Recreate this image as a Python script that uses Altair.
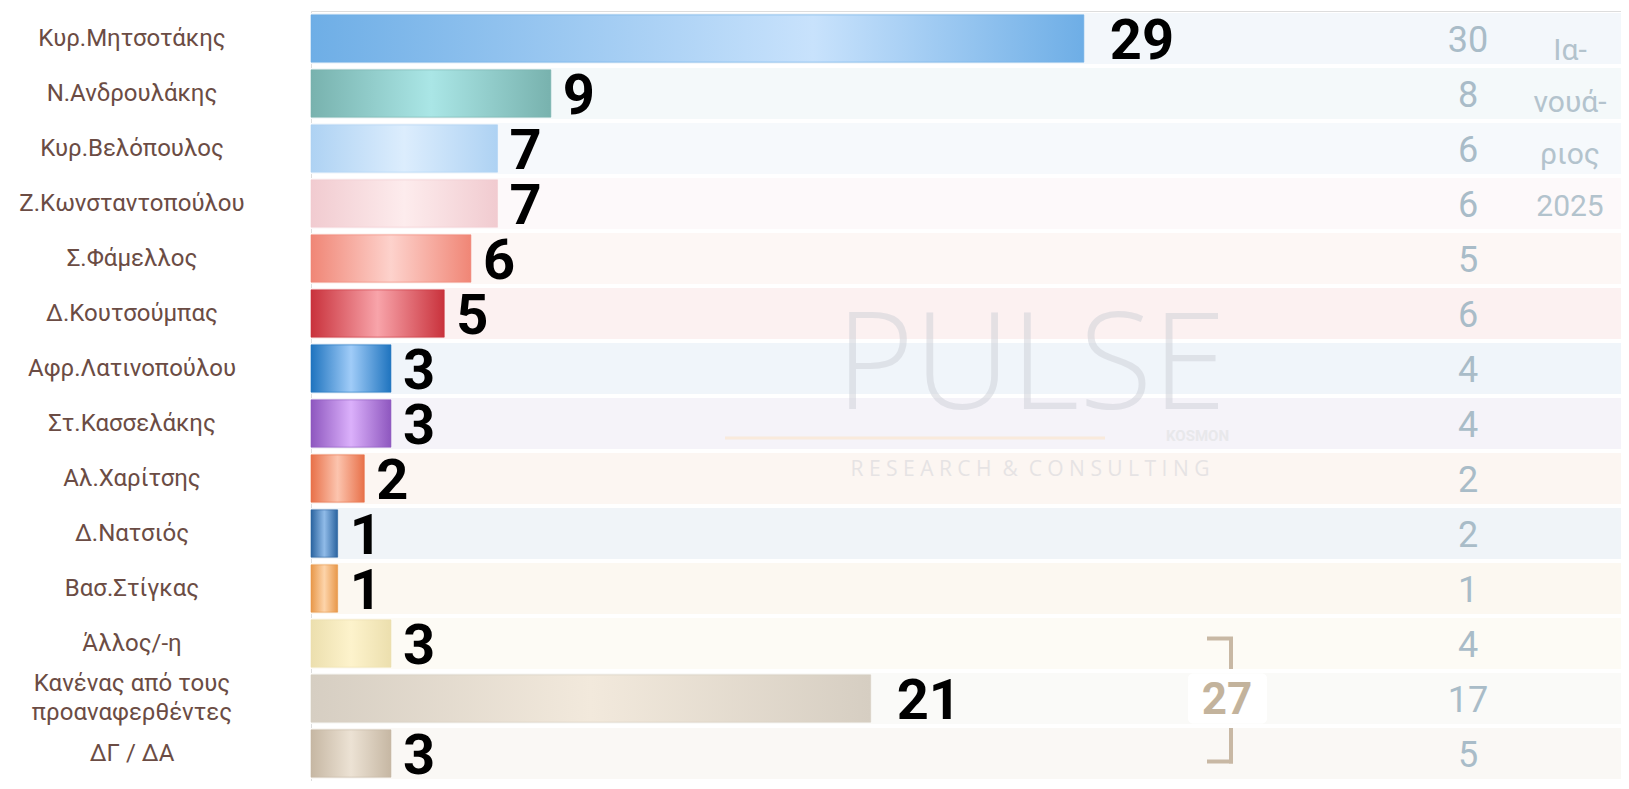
import altair as alt
import pandas as pd

# ---------------- data ----------------
names = ["Κυρ.Μητσοτάκης", "Ν.Ανδρουλάκης", "Κυρ.Βελόπουλος", "Ζ.Κωνσταντοπούλου",
         "Σ.Φάμελλος", "Δ.Κουτσούμπας", "Αφρ.Λατινοπούλου", "Στ.Κασσελάκης",
         "Αλ.Χαρίτσης", "Δ.Νατσιός", "Βασ.Στίγκας", "Άλλος/-η",
         "Κανένας από τους\nπροαναφερθέντες", "ΔΓ / ΔΑ"]
values = [29, 9, 7, 7, 6, 5, 3, 3, 2, 1, 1, 3, 21, 3]
previous = [30, 8, 6, 6, 5, 6, 4, 4, 2, 2, 1, 4, 17, 5]
month_lines = ["Ια-", "νουά-", "ριος", "2025"]
bracket_total = sum(values[-3:])

# ---------------- styles ----------------
edge_colors = ["#6eaee6", "#78b2ae", "#aed2f3", "#f1cbd0", "#f08676", "#c9323c", "#1f74bf",
               "#8e57bf", "#e8714a", "#2b64a0", "#e8984a", "#ecdfae", "#d6cec2", "#c6b7a3"]
mid_colors = ["#c8e2fc", "#aae6e6", "#dcedfd", "#fdeced", "#fdd2cc", "#f8a4aa", "#a0ccf8",
              "#dbb0fb", "#fcc4ae", "#90bbe8", "#fdd4aa", "#fdf3cc", "#f2e9dc", "#ece2d4"]
band_colors = ["#f3f7fb", "#f4f9fa", "#f6f9fc", "#fdf9fa", "#fdf7f5", "#fcf1f1", "#f0f5fa",
               "#f5f3f9", "#fcf6f2", "#f0f4f8", "#fcf8f1", "#fdfbf5", "#fafaf8", "#faf8f5"]

W, H = 1310, 770
PX_PER_UNIT = 26.65
ROW = H / len(names)
FONT = "Roboto"
LABEL_LH = 29

df = pd.DataFrame({"idx": list(range(len(names))), "name": names,
                   "value": values, "previous": previous})
df["lines"] = df["name"].str.count("\n") + 1

y_enc = alt.Y("name:N", sort=names, title=None,
              scale=alt.Scale(paddingInner=0, paddingOuter=0),
              axis=None)
x_enc = alt.X("value:Q", axis=None,
              scale=alt.Scale(domain=[0, W / PX_PER_UNIT], nice=False, zero=True))

base = alt.Chart(df)

bands = base.mark_bar(height=alt.RelativeBandSize(0.93)).encode(
    y=y_enc,
    x=alt.value(0), x2=alt.value(W),
    color=alt.Color("name:N", sort=names,
                    scale=alt.Scale(domain=names, range=band_colors), legend=None),
)

# category labels on the left
label_single = base.transform_filter(alt.datum.lines == 1).mark_text(
    font=FONT, fontSize=24, color="#6b4c44", align="center", baseline="middle"
).encode(y=y_enc, x=alt.value(-179), text="name:N")
label_multi = base.transform_filter(alt.datum.lines > 1).mark_text(
    font=FONT, fontSize=24, color="#6b4c44", align="center", baseline="middle",
    lineBreak="\n", lineHeight=LABEL_LH, dy=-LABEL_LH / 2
).encode(y=y_enc, x=alt.value(-179), text="name:N")

one = pd.DataFrame({"k": [0]})

wm_pulse = alt.Chart(pd.DataFrame({"t": ["PULSE"]})).mark_text(
    font="Open Sans", fontWeight=300, fontSize=134, color="#c9ccd4", opacity=0.45,
    align="center", baseline="middle", dy=4
).encode(text="t:N", x=alt.value(720), y=alt.value(354))

wm_kosmon = alt.Chart(pd.DataFrame({"t": ["KOSMON"]})).mark_text(
    font=FONT, fontWeight="bold", fontSize=15, color="#e6e6e8", opacity=0.8,
    align="right", baseline="middle"
).encode(text="t:N", x=alt.value(918), y=alt.value(425))

NB = "\u00a0"
research = "R E S E A R C H" + NB * 2 + "&" + NB * 2 + "C O N S U L T I N G"
wm_research = alt.Chart(pd.DataFrame({"t": [research]})).mark_text(
    font="Open Sans", fontSize=21, color="#d8d8dc", opacity=0.6,
    align="center", baseline="middle"
).encode(text="t:N", x=alt.value(719), y=alt.value(459))

wm_line = alt.Chart(one).mark_rule(color="#fbe6d0", strokeWidth=3, opacity=0.7).encode(
    x=alt.value(414), x2=alt.value(794), y=alt.value(427))

bar_layers = []
for i in range(len(names)):
    stop_mid = 0.65 if i == 0 else 0.5
    grad = alt.Gradient(gradient="linear", x1=0, x2=1, y1=0, y2=0, stops=[
        alt.GradientStop(color=edge_colors[i], offset=0),
        alt.GradientStop(color=mid_colors[i], offset=stop_mid),
        alt.GradientStop(color=edge_colors[i], offset=1)])
    bar_layers.append(
        base.transform_filter(alt.datum.idx == i).mark_bar(
            height=alt.RelativeBandSize(0.86), color=grad,
            stroke=edge_colors[i], strokeWidth=1, strokeOpacity=0.6
        ).encode(y=y_enc, x=x_enc)
    )

val_small = base.transform_filter(alt.datum.value < 10).mark_text(
    font=FONT, fontWeight="bold", fontSize=56, color="#000000",
    align="left", baseline="middle", dx=12, dy=3
).encode(y=y_enc, x=x_enc, text="value:Q")

val_big = base.transform_filter(alt.datum.value >= 10).mark_text(
    font=FONT, fontWeight="bold", fontSize=56, color="#000000",
    align="left", baseline="middle", dx=26, dy=3
).encode(y=y_enc, x=x_enc, text="value:Q")

prev_text = base.mark_text(
    font=FONT, fontSize=36, color="#a9bcc8", align="center", baseline="middle", dy=2
).encode(y=y_enc, x=alt.value(1157), text="previous:Q")

month = alt.Chart(pd.DataFrame({"m": ["\n".join(month_lines)]})).mark_text(
    font=FONT, fontSize=30, color="#b3c3cd", align="center", baseline="alphabetic",
    lineBreak="\n", lineHeight=52
).encode(text="m:N", x=alt.value(1259), y=alt.value(49))

# bracket around the last three rows
BR = "#c8b8a4"
xl, xr = 896, 920
top_h = ROW * 11.5 - 5
top_v_end = ROW * 12 - 2
bot_v_start = ROW * 13 + 2
bot_h = ROW * 13.5 + 8
br_rules = [
    alt.Chart(one).mark_rule(color=BR, strokeWidth=4).encode(
        x=alt.value(xl), x2=alt.value(xr + 2), y=alt.value(top_h)),
    alt.Chart(one).mark_rule(color=BR, strokeWidth=4).encode(
        x=alt.value(xr), y=alt.value(top_h), y2=alt.value(top_v_end)),
    alt.Chart(one).mark_rule(color=BR, strokeWidth=4).encode(
        x=alt.value(xr), y=alt.value(bot_v_start), y2=alt.value(bot_h + 2)),
    alt.Chart(one).mark_rule(color=BR, strokeWidth=4).encode(
        x=alt.value(xl), x2=alt.value(xr + 2), y=alt.value(bot_h)),
]
br_box = alt.Chart(one).mark_rect(color="#ffffff", cornerRadius=5).encode(
    x=alt.value(877), x2=alt.value(956),
    y=alt.value(ROW * 12.5 - 25), y2=alt.value(ROW * 12.5 + 25))
br_text = alt.Chart(pd.DataFrame({"t": [bracket_total]})).mark_text(
    font=FONT, fontWeight="bold", fontSize=44, color="#c3b39c",
    align="center", baseline="middle", dy=2
).encode(text="t:Q", x=alt.value(916), y=alt.value(ROW * 12.5))

chart = alt.layer(
    bands, label_single, label_multi, wm_line, wm_pulse, wm_kosmon, wm_research,
    *bar_layers, val_small, val_big, prev_text, month,
    *br_rules, br_box, br_text
).properties(
    width=W, height=H,
    autosize=alt.AutoSizeParams(type="none"),
    padding={"left": 303, "top": 3, "right": 0, "bottom": 0},
).configure_view(stroke=None).configure(background="#ffffff")

chart.save("out.html", embed_options={"renderer": "svg", "actions": False})
